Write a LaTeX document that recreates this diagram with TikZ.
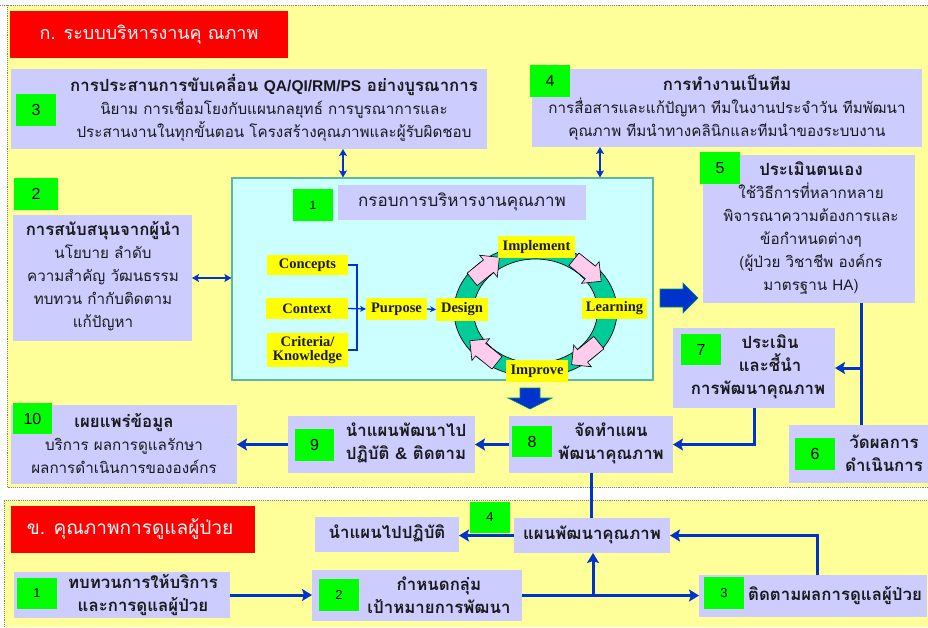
\documentclass[tikz,border=0pt]{standalone}
\usepackage{fontspec}
\usetikzlibrary{arrows.meta,calc}
\newfontfamily\thai[Script=Thai]{Loma}
\newfontfamily\arialf{Liberation Sans}
\newfontfamily\timesf{Liberation Serif}

\definecolor{bgyellow}{HTML}{FFFF99}
\definecolor{lav}{HTML}{CCCCFF}
\definecolor{numgreen}{HTML}{00FF00}
\definecolor{flowblue}{HTML}{0033CC}
\definecolor{framecyan}{HTML}{CCFFFF}
\definecolor{frameedge}{HTML}{5FB7A0}
\definecolor{ringgreen}{HTML}{00CC99}
\definecolor{pinkarrow}{HTML}{FFCCEE}
\definecolor{labelyellow}{HTML}{FFFF00}
\definecolor{titlered}{HTML}{FF0000}
\definecolor{inktext}{HTML}{1A1A1A}

\newcommand\boldthai{\thai\bfseries\fontsize{16.8}{23}\selectfont}

\begin{document}
\begin{tikzpicture}[x=1pt,y=1pt,
  secedge/.style={draw=gray, densely dotted, line width=0.9pt},
  box/.style={fill=lav, inner sep=0pt, outer sep=0pt},
  num/.style={fill=numgreen, inner sep=0pt, outer sep=0pt, minimum width=40pt,
    minimum height=32pt, font=\arialf\fontsize{16}{16}\selectfont},
  smallnum/.style={num, font=\arialf\fontsize{13}{13}\selectfont},
  ylab/.style={fill=labelyellow, inner sep=0pt, outer sep=0pt, align=center,
    text=inktext, font=\timesf\bfseries\fontsize{14.5}{15}\selectfont},
  redtitle/.style={fill=titlered, inner sep=0pt, outer sep=0pt},
  wtxt/.style={text=white, inner sep=0pt, font=\thai\fontsize{18}{24}\selectfont},
  tx/.style={inner sep=0pt, align=center, text=inktext,
    font=\thai\fontsize{15.2}{23}\selectfont},
  txb/.style={tx, font=\boldthai},
  flow/.style={draw=flowblue, line width=3pt},
  flowarr/.style={flow, -{Stealth[length=10pt,width=12pt,inset=2pt]}},
  dbl/.style={draw=flowblue, line width=1.8pt,
    {Stealth[length=7pt,width=8pt,inset=1.5pt]}-{Stealth[length=7pt,width=8pt,inset=1.5pt]}},
  brk/.style={draw=flowblue, line width=1.3pt},
  brkarr/.style={brk, -{Stealth[length=6pt,width=6pt]}},
  bigarrow/.style={fill=flowblue, draw=ringgreen!70!black, line width=0.6pt},
  pinkshape/.style={fill=pinkarrow, draw=black, line width=0.6pt, line join=miter}
]
\useasboundingbox (0,0) rectangle (928,-627);

% ---- section backgrounds ----
\fill[white] (0,0) rectangle (928,-627);
\fill[bgyellow] (7,-5) rectangle (928,-487);
\draw[secedge] (0,-5) -- (928,-5);
\draw[secedge] (7,-5) -- (7,-487) -- (928,-487);
\fill[bgyellow] (4,-500) rectangle (928,-627);
\draw[secedge] (4,-627) -- (4,-500) -- (928,-500);

% ---- section A title ----
\node[redtitle, minimum width=278pt, minimum height=47pt] (redA) at (149,-34.5) {};
\node[wtxt] (redAt) at (149,-34.5) {ก. ระบบบริหารงานคุ ณภาพ};

% ---- box 3 ----
\node[box, minimum width=476pt, minimum height=80pt] (b3) at (249,-109) {};
\node[num] (n3) at (36,-110) {3};
\node[tx] (b3t) at (274,-107.5) {{\boldthai การประสานการขับเคลื่อน {\arialf\fontsize{15.5}{23}\selectfont QA/QI/RM/PS} อย่างบูรณาการ}\\
  นิยาม การเชื่อมโยงกับแผนกลยุทธ์ การบูรณาการและ\\
  ประสานงานในทุกขั้นตอน โครงสร้างคุณภาพและผู้รับผิดชอบ};

% ---- box 4 ----
\node[box, minimum width=390pt, minimum height=78pt] (b4) at (727,-108) {};
\node[num] (n4) at (550,-81) {4};
\node[tx] (b4t) at (727,-107.5) {{\boldthai การทำงานเป็นทีม}\\
  การสื่อสารและแก้ปัญหา ทีมในงานประจำวัน ทีมพัฒนา\\
  คุณภาพ ทีมนำทางคลินิกและทีมนำของระบบงาน};

% ---- box 5 ----
\node[box, minimum width=212pt, minimum height=148pt] (b5) at (809,-229) {};
\node[num] (n5) at (720,-168) {5};
\node[tx] (b5t) at (811,-228) {{\boldthai ประเมินตนเอง}\\
  ใช้วิธีการที่หลากหลาย\\
  พิจารณาความต้องการและ\\
  ข้อกำหนดต่างๆ\\
  (ผู้ป่วย วิชาชีพ องค์กร\\
  มาตรฐาน {\arialf HA})};

% ---- box 2 ----
\node[box, minimum width=179pt, minimum height=126pt] (b2) at (102.5,-278) {};
\node[num, minimum width=44pt] (n2) at (36,-194) {2};
\node[tx] (b2t) at (103,-276) {{\boldthai การสนับสนุนจากผู้นำ}\\
  นโยบาย ลำดับ\\
  ความสำคัญ วัฒนธรรม\\
  ทบทวน กำกับติดตาม\\
  แก้ปัญหา};

% ---- central frame ----
\node[fill=framecyan, draw=frameedge, line width=1.2pt, inner sep=0pt,
  minimum width=421pt, minimum height=202pt] (frame) at (442.5,-279) {};
\node[num, font=\arialf\fontsize{12}{12}\selectfont] (n1) at (313,-205) {1};
\node[box, minimum width=248pt, minimum height=35pt] (t1) at (462,-202.5) {};
\node[tx, font=\thai\fontsize{17}{20}\selectfont] (t1t) at (462,-202) {กรอบการบริหารงานคุณภาพ};

\node[ylab, minimum width=81pt, minimum height=20pt] (concepts) at (307.5,-265) {Concepts};
\node[ylab, minimum width=82pt, minimum height=21pt] (context) at (307,-308.5) {Context};
\node[ylab, minimum width=81pt, minimum height=34pt, font=\timesf\bfseries\fontsize{14.5}{14.5}\selectfont] (criteria) at (307.5,-350) {Criteria/\\Knowledge};
\node[ylab, minimum width=61pt, minimum height=22pt] (purpose) at (396.5,-309) {Purpose};

% quality cycle ring
\coordinate (ringc) at (535.5,-311);
\fill[ringgreen, even odd rule] (ringc) ellipse [x radius=81.5pt, y radius=66pt]
  (ringc) ellipse [x radius=62pt, y radius=52pt];
\draw[black, line width=0.7pt] (ringc) ellipse [x radius=81.5pt, y radius=66pt];
\draw[black, line width=0.7pt] (ringc) ellipse [x radius=62pt, y radius=52pt];
\foreach \t/\r in {135/39, 45/-39, -45/-141, -135/141} {
  \begin{scope}[shift={($(ringc)+(\t:72 and 59)$)}, rotate=\r]
    \draw[pinkshape] (-16,-8) -- (5,-8) -- (5,-14) -- (19,0) -- (5,14) -- (5,8) -- (-16,8) -- cycle;
  \end{scope}
}
\node[ylab, minimum width=52pt, minimum height=23pt] (design) at (462,-309.5) {Design};
\node[ylab, minimum width=77pt, minimum height=22pt] (implement) at (536.5,-247) {Implement};
\node[ylab, minimum width=65pt, minimum height=21pt] (learning) at (614.5,-308.5) {Learning};
\node[ylab, minimum width=62pt, minimum height=22pt] (improve) at (537,-371) {Improve};

% inputs bracket into purpose and design
\coordinate (brkx) at ($(purpose.west)+(-9,0)$);
\draw[brk] (concepts.east) -| (brkx) |- (criteria.east);
\draw[brkarr] (context.east) -- (purpose.west);
\draw[brkarr] (purpose.east) -- (design.west);

% links between the frame and boxes 2, 3, 4
\draw[dbl] (b2.east) -- (b2.east -| frame.west);
\draw[dbl] ([xshift=5pt]t1.west |- b3.south) -- ([xshift=5pt]t1.west |- frame.north);
\draw[dbl] ([xshift=68pt]b4.south west) -- ([xshift=68pt]b4.south west |- frame.north);

% block arrows out of the frame
\draw[bigarrow] (660,-289) -- (683,-289) -- (683,-283) -- (698,-298) -- (683,-313)
  -- (683,-307) -- (660,-307) -- cycle;
\draw[bigarrow] (520,-388) -- (540,-388) -- (540,-398) -- (552,-398) -- (530,-409)
  -- (508,-398) -- (520,-398) -- cycle;

% ---- boxes 7, 6, 8, 9, 10 ----
\node[box, minimum width=162pt, minimum height=80pt] (b7) at (754,-368) {};
\node[num, minimum height=31pt] (n7) at (701,-349.5) {7};
\node[txb] (b7t) at (758,-366.5) {\hspace*{24pt}ประเมิน\\ \hspace*{24pt}และชี้นำ\\ การพัฒนาคุณภาพ};

\node[box, minimum width=139pt, minimum height=58pt] (b6) at (858.5,-454) {};
\node[num] (n6) at (815,-454) {6};
\node[txb] (b6t) at (884,-453.5) {วัดผลการ\\ ดำเนินการ};

\node[box, minimum width=164pt, minimum height=57pt] (b8) at (591,-444.5) {};
\node[num, minimum height=31pt] (n8) at (532,-441.5) {8};
\node[txb] (b8t) at (611,-443.5) {จัดทำแผน\\ พัฒนาคุณภาพ};

\node[box, minimum width=187pt, minimum height=57pt] (b9) at (381.5,-444.5) {};
\node[num, minimum width=39pt] (n9) at (314.5,-445) {9};
\node[txb] (b9t) at (406,-442.5) {นำแผนพัฒนาไป\\ ปฏิบัติ {\arialf\&} ติดตาม};

\node[box, minimum width=226pt, minimum height=79pt] (b10) at (124,-444.5) {};
\node[num, minimum width=39pt, minimum height=31pt] (n10) at (32.5,-418.5) {10};
\node[tx] (b10t) at (124,-444) {{\boldthai เผยแพร่ข้อมูล}\\
  บริการ ผลการดูแลรักษา\\
  ผลการดำเนินการขององค์กร};

\coordinate (j1) at ($(b5.south west)+(158,0)$);
\draw[flow] (j1) -- (j1 |- b6.north);
\draw[flowarr] (j1 |- b7.east) -- (b7.east);
\draw[flowarr] (b7.south) |- (b8.east);
\draw[flowarr] (b8.west) -- (b8.west -| b9.east);
\draw[flowarr] (b9.west) -- (b9.west -| b10.east);

% ---- section B ----
\node[redtitle, minimum width=244pt, minimum height=47pt] (redB) at (133,-529.5) {};
\node[wtxt, font=\thai\fontsize{19}{24}\selectfont] (redBt) at (130,-529) {ข. คุณภาพการดูแลผู้ป่วย};

\node[box, minimum width=144pt, minimum height=35pt] (impl) at (387,-534.5) {};
\node[txb] (implt) at (387,-533.5) {นำแผนไปปฏิบัติ};
\node[box, minimum width=156pt, minimum height=35pt] (plan) at (592,-535.5) {};
\node[txb] (plant) at (592,-534.5) {แผนพัฒนาคุณภาพ};
\node[smallnum, minimum height=31pt] (m4) at (490,-517.5) {4};

\node[box, minimum width=216pt, minimum height=46pt] (c1) at (122,-595) {};
\node[smallnum, minimum height=31pt] (m1) at (37,-593.5) {1};
\node[txb] (c1t) at (143,-595.5) {ทบทวนการให้บริการ\\ และการดูแลผู้ป่วย};

\node[box, minimum width=210pt, minimum height=51pt] (c2) at (417,-595.5) {};
\node[smallnum] (m2) at (339,-595) {2};
\node[txb] (c2t) at (439,-595.5) {กำหนดกลุ่ม\\ เป้าหมายการพัฒนา};

\node[box, minimum width=228pt, minimum height=42pt] (c3) at (813,-596) {};
\node[smallnum] (m3) at (724,-593) {3};
\node[txb] (c3t) at (835,-595.5) {ติดตามผลการดูแลผู้ป่วย};

\draw[flow] (b8.south) -- (b8.south |- plan.north);
\draw[flowarr] (plan.west) -- (plan.west -| impl.east);
\draw[flowarr] (c1.east) -- (c1.east -| c2.west);
\draw[flowarr] (c2.east) -- (c2.east -| c3.west);
\coordinate (j2) at ($(c2.east)+(71,0)$);
\draw[flowarr] (j2) -- (j2 |- plan.south);
\draw[flowarr] ([xshift=4pt]c3.north) |- (plan.east);
\end{tikzpicture}
\end{document}
